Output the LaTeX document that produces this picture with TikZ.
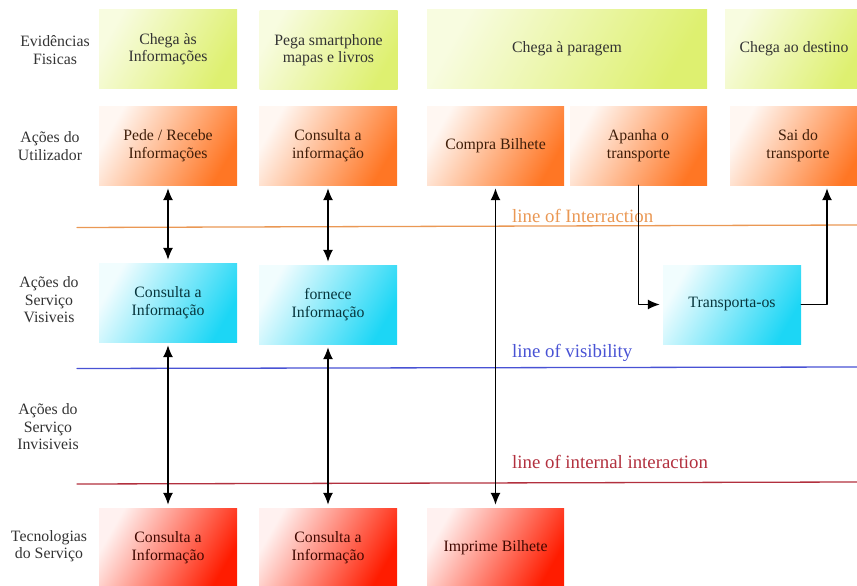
\documentclass[tikz,border=0pt]{standalone}
\usepackage{fontspec}
\setmainfont{Liberation Serif}
\usetikzlibrary{arrows.meta}

\definecolor{evidgreen}{RGB}{222,240,112}
\definecolor{userorange}{RGB}{255,118,36}
\definecolor{viscyan}{RGB}{28,214,245}
\definecolor{techred}{RGB}{255,28,0}
\definecolor{interorange}{RGB}{234,152,84}
\definecolor{visblue}{RGB}{72,82,212}
\definecolor{internred}{RGB}{178,48,62}

\begin{document}
\begin{tikzpicture}[x=1pt, y=-1pt, >={Latex[length=12pt,width=10pt]}, line cap=round, line join=round,
  box/.style={minimum width=138pt, minimum height=79pt, inner sep=0pt, align=center,
    font=\fontsize{15.8}{17.5}\selectfont},
  grad/.style={top color=#1!6, middle color=#1!55, bottom color=#1, shading angle=60,
    text=#1!25!black},
  evidbox/.style={box, top color=evidgreen!22, middle color=evidgreen!62, bottom color=evidgreen,
    shading angle=60, text=black!80},
  userbox/.style={box, grad=userorange},
  visbox/.style={box, grad=viscyan},
  techbox/.style={box, grad=techred},
  rowlabel/.style={align=center, text=black!80, font=\fontsize{15.8}{17.5}\selectfont},
  linelabel/.style={anchor=base west, inner sep=0pt, font=\fontsize{18.8}{20}\selectfont},
  link/.style={line width=1.4pt, shorten >=3pt, shorten <=3pt}]

  \useasboundingbox (0,0) rectangle (857,586);

  %--------------------------
  % Row labels
  %--------------------------
  \node[rowlabel] (lbevid) at (55,50) {Evidências\\Fisicas};
  \node[rowlabel] (lbuser) at (50,146) {Ações do\\Utilizador};
  \node[rowlabel] (lbvis) at (49,300) {Ações do\\Serviço\\Visiveis};
  \node[rowlabel] (lbinvis) at (48,427) {Ações do\\Serviço\\Invisiveis};
  \node[rowlabel] (lbtech) at (49,546) {Tecnologias\\do Serviço};

  %--------------------------
  % Evidências Fisicas
  %--------------------------
  \node[evidbox] (evid1) at (168,49) {Chega às\\Informações};
  \node[evidbox] (evid2) at (328.5,50) {Pega smartphone\\mapas e livros};
  \node[evidbox, minimum width=280pt] (evid3) at (567,49) {Chega à paragem};
  \node[evidbox] (evid4) at (794,49) {Chega ao destino};

  %--------------------------
  % Ações do Utilizador
  %--------------------------
  \node[userbox] (pede) at (168,145.5) {Pede / Recebe\\Informações};
  \node[userbox] (consulta) at (328,145.5) {Consulta a\\informação};
  \node[userbox, minimum width=137pt] (compra) at (495.5,145.5) {Compra Bilhete};
  \node[userbox, minimum width=137pt] (apanha) at (638.5,145.5) {Apanha o\\transporte};
  \node[userbox, minimum width=136pt] (sai) at (798,145.5) {Sai do\\transporte};

  %--------------------------
  % Lines
  %--------------------------
  \draw[interorange, line width=1.3pt] (77,227.5) -- (857,225);
  \node[linelabel, interorange] (lninter) at (512,222) {line of Interraction};

  \draw[visblue, line width=1.3pt] (77,368.5) -- (857,367);
  \node[linelabel, visblue] (lnvis) at (512,357) {line of visibility};

  \draw[internred, line width=1.3pt] (77,484) -- (857,482);
  \node[linelabel, internred] (lnintern) at (512,468) {line of internal interaction};

  %--------------------------
  % Ações do Serviço Visiveis
  %--------------------------
  \node[visbox] (consvis) at (168,302.5) {Consulta a\\Informação};
  \node[visbox] (fornece) at (328,304.5) {fornece\\Informação};
  \node[visbox] (transp) at (732,304.5) {Transporta-os};

  %--------------------------
  % Tecnologias do Serviço
  %--------------------------
  \node[techbox] (tech1) at (168,547.5) {Consulta a\\Informação};
  \node[techbox] (tech2) at (328,547.5) {Consulta a\\Informação};
  \node[techbox, minimum width=137pt] (imprime) at (495.5,547.5) {Imprime Bilhete};

  % Connectors
  \draw[link, <->] (pede) -- (consvis);
  \draw[link, <->] (consulta) -- (fornece);
  \draw[link, <->] (consvis) -- (tech1);
  \draw[link, <->] (fornece) -- (tech2);
  \draw[link, <->] (compra) -- (imprime);
  \draw[link, ->, shorten <=0pt] (apanha.south) |- (transp.west);
  \draw[link, ->, shorten <=0pt] (transp.east) -| ([xshift=29pt]sai.south);

\end{tikzpicture}
\end{document}
